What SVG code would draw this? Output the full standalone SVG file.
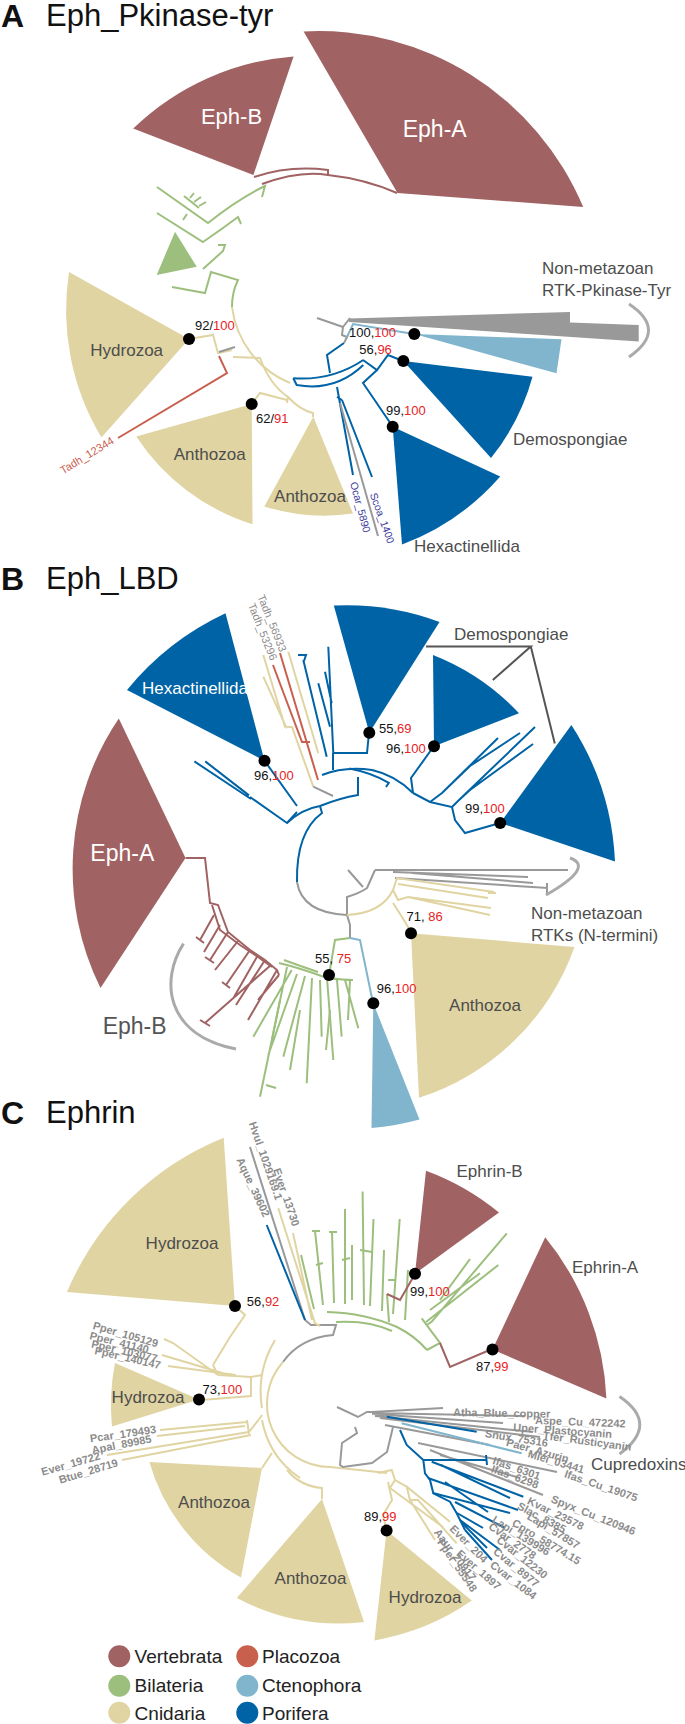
<svg xmlns="http://www.w3.org/2000/svg" width="685" height="1724" viewBox="0 0 685 1724">
<style>
text{font-family:"Liberation Sans",Arial,sans-serif}
.title{font-size:31px;fill:#111}
.tl{font-size:32px;font-weight:bold;fill:#111}
.br{fill:none;stroke-width:2;stroke-linejoin:miter}
.vb{stroke:#a06262}.bi{stroke:#9dbf7d}.cn{stroke:#e0d4a2}.po{stroke:#0063a6}.ct{stroke:#80b5cd}.pl{stroke:#c9604e}.gr{stroke:#999}
.fvb{fill:#a06262}.fbi{fill:#9dbf7d}.fcn{fill:#e0d4a2}.fpo{fill:#0063a6}.fct{fill:#80b5cd}.fpl{fill:#c9604e}.fgr{fill:#999}
.wl{font-size:17px;fill:#4d4d4d}
.ww{fill:#fff}
.bs{font-size:13px;fill:#111}
.rd{fill:#e8231f}
.tip{font-size:11px;font-weight:bold;fill:#8c8c8c}
.brk{fill:none;stroke:#aaa;stroke-width:3}
.lg{font-size:19px;fill:#222}
</style>

<g id="titles">
<text class="tl" x="1" y="27">A</text><text class="title" x="46" y="26">Eph_Pkinase-tyr</text>
<text class="tl" x="1" y="590">B</text><text class="title" x="46" y="589">Eph_LBD</text>
<text class="tl" x="1" y="1124">C</text><text class="title" x="46" y="1123">Ephrin</text>
</g>

<!-- ================= PANEL A ================= -->
<g id="A-connectors">
<path class="br vb" d="M254,177 Q290,165 328,170 L328,176"/>
<path class="br vb" d="M262,184 Q300,170 328,175 Q365,179 397,193"/>
<path class="br bi" d="M157,187 L208,223 Q238,199 265,186 L262,197"/>
<path class="br bi" d="M184,196 L199,208 M190,198 L194,193 M194,202 L201,197 M199,206 L206,202"/>
<path class="br bi" d="M157,213 L203,242 Q222,229 238,217 L241,224"/>
<path class="br bi" d="M183,220 L187,214"/>
<path class="br bi" d="M218,245 L225,245 L223,251 L203,269"/>
<path class="br bi" d="M172,287 L205,293 L211,272 L238,280 Q232,292 232,307"/>
<path class="br cn" d="M232,307 A95,95 0 0 0 290,383"/>
<path class="br cn" d="M233,357 L260,358 Q270,385 288,397 L287,403"/>
<path class="br cn" d="M251.7,404 L260,393 L287,400"/>
<path class="br cn" d="M288,397 Q300,410 313,413 L313,417"/>
<path class="br cn" d="M189,339 L213,335 L218,353 L232,350"/>
<path class="br gr" d="M219,352 L235,347"/>
<path class="br pl" d="M219,356 L227,373 L118,438"/>
<path class="br po" d="M293.3,378.3 L296.7,385 Q335,392 363.3,365"/>
<path class="br po" d="M293.3,378.3 Q332,381 363.3,360"/>
<path class="br po" d="M330,373 L327,355 L344,343"/>
<path class="br po" d="M363,360 L377,370 L388,355 L403,361"/>
<path class="br po" d="M377,370 L363,383 L393,427"/>
<path class="br po" d="M337,387 L353,475 M342,400 L372,477 M337,397 L342,400"/>
<path class="br gr" d="M340,403 L378,536"/>
<path class="br gr" d="M317,318 L343,327 L342,335 L347,337 L344,343 M343,327 L350,318"/>
<path class="br ct" d="M347,337 L353,324 L414,334"/>
<path class="brk" d="M629,304 Q668,330 629,357"/>
</g>

<g id="A-EphB"><path class="fvb" d="M253.4,175 L133.2,128.6 A260,260 0 0 1 293.6,56.4 Z"/><text class="ww" x="231.5" y="124" font-size="22" text-anchor="middle">Eph-B</text></g>
<g id="A-EphA"><path class="fvb" d="M397.5,192.9 L303.6,31.4 A287,287 0 0 1 583.2,207.1 Z"/><text class="ww" x="434.7" y="137" font-size="23" text-anchor="middle">Eph-A</text></g>
<g id="A-Bilateria"><path class="fbi" d="M156.7,275 L175,231.7 L196.7,266.7 Z"/></g>
<g id="A-Hydrozoa"><path class="fcn" d="M189,339 L101.4,437.5 A248,248 0 0 1 69,272 Z"/><text class="wl" x="126.7" y="356" text-anchor="middle">Hydrozoa</text></g>
<g id="A-Anthozoa1"><path class="fcn" d="M251.7,404 L252.5,524.3 A217,217 0 0 1 136.3,436.4 Z"/><text class="wl" x="209.7" y="459.6" text-anchor="middle">Anthozoa</text></g>
<g id="A-Anthozoa2"><path class="fcn" d="M313.3,416.7 L353,513.6 A200,200 0 0 1 264.3,506.4 Z"/><text class="wl" x="310" y="501.7" text-anchor="middle">Anthozoa</text></g>
<g id="A-NonMetazoan"><path class="fgr" d="M349,318.5 L570,312 L570,322.5 L638.7,325 L638.7,341.5 L349,322 Z"/><text class="wl" x="542" y="274">Non-metazoan</text><text class="wl" x="542" y="296">RTK-Pkinase-Tyr</text></g>
<g id="A-Ctenophora"><path class="fct" d="M414.3,334 L561.5,339.3 L556.5,373.3 Z"/></g>
<g id="A-Demospongiae"><path class="fpo" d="M403.3,361 L532.5,376.8 A226,226 0 0 1 491,458 Z"/><text class="wl" x="513" y="445">Demospongiae</text></g>
<g id="A-Hexactinellida"><path class="fpo" d="M392.7,426.7 L500.2,476.5 A245,245 0 0 1 402,544.6 Z"/><text class="wl" x="414" y="552">Hexactinellida</text></g>
<g id="A-tips">
<text font-size="11" fill="#c9604e" transform="translate(63,474.4) rotate(-31.3)">Tadh_12344</text>
<text font-size="10.5" fill="#3b3b9e" transform="translate(350,483) rotate(75)">Ocar_5890</text>
<text font-size="10.5" fill="#3b3b9e" transform="translate(369.7,494.4) rotate(70)">Scoa_1400</text>
</g>
<g id="A-support">
<circle cx="189" cy="339" r="6"/><text class="bs" x="195" y="329.5">92/<tspan class="rd">100</tspan></text>
<circle cx="251.7" cy="404" r="6"/><text class="bs" x="256" y="423">62/<tspan class="rd">91</tspan></text>
<circle cx="414.3" cy="334" r="6"/><text class="bs" x="349" y="337">100,<tspan class="rd">100</tspan></text>
<circle cx="403.3" cy="361" r="6"/><text class="bs" x="359.3" y="354">56,<tspan class="rd">96</tspan></text>
<circle cx="392.7" cy="426.7" r="6"/><text class="bs" x="386" y="415">99,<tspan class="rd">100</tspan></text>
</g>

<!-- ================= PANEL B ================= -->
<g id="B-connectors">
<path class="br po" d="M297,882 Q296,832 322,813 L320,806"/>
<path class="br po" d="M287,823 Q302,809 320,806 Q340,798 358,795 L358,777"/>
<path class="br po" d="M194.4,761.4 L251,799 M205.3,761.4 L249,795.4 M250,797 L287,823 L297,812"/>
<path class="br po" d="M264.5,760.7 L297,806"/>
<path class="br po" d="M322,775 Q345,766 372,770 Q395,775 413,793"/>
<path class="br po" d="M333,753 L367,753 L369,733 M333,753 L333,770"/>
<path class="br po" d="M326.7,756.7 L303.3,660 M298,655 L306,655 L304,661"/>
<path class="br po" d="M328.3,646.7 L333.3,753.3 M318.3,683.3 L330,726.7 M325,671.7 L331.7,703.3"/>
<path class="br po" d="M413,793 L411,778 L434,746"/>
<path class="br po" d="M349.5,768.6 Q372,773 388.8,782.9 L386,787"/>
<path class="br po" d="M413,793 L430,802 L452,807 L455,820 L465,833 L500,823"/>
<path class="br po" d="M430,802 L442,793 L498,738 M452,807 L458,801 L535,727 M458,801 L470,790 L533,744 M442,793 L470,766 L520,733"/>
<path class="br cn" d="M263.3,655 L285,726.7 L292,727 L313.3,786.7 M263.3,676.7 L286.7,728.3 M288.3,651.7 L318.3,753.3"/>
<path class="br pl" d="M280,653 L318,780 M273,665 L302,742 L310,742"/>
<path class="br gr" d="M313.3,786.7 L333,796"/>
<path class="br gr" d="M297,882 Q302,913 347,915 L350,925 L350,938"/>
<path class="br bi" d="M350,938 L335,940 L329,975"/>
<path class="br ct" d="M350,938 L360,940 L373,1003"/>
<path class="br gr" d="M348,870 L363,887 M347,915 L347,897 Q360,893 367,888 L375,870"/>
<path class="br gr" d="M375,870 L568,870 M393,872 L528,877 M412,873 L533,883 M395,878 L548,888 M547,883 L547,894"/>
<path class="br cn" d="M347,915 Q382,913 393,890 L397,878 L494,892 M398,884 L488,898 M393,890 L398,900 L408,897 L491,908 M408,897 L490,915 M488,893 L496,893"/>
<path class="br cn" d="M393,903 L402,917 L408,927 L411,933"/>
<path class="br vb" d="M185.5,858 L205,858 L210,903 L218,905 L228,932 L250,950 L265,960 L277,970 L279,975"/>
<path class="br vb" d="M212,905 L220,930 L240,945 L258,957 L272,967"/>
<path class="br vb" d="M214,915 L200,940 M196,937 L204,943 M220,925 L204,952 M228,932 L210,960 M205,957 L214,963 M238,941 L215,970 M250,950 L226,985 M222,982 L230,988 M258,955 L234,997 M265,960 L236,1005 M271,965 L205,1023 M200,1020 L210,1026 M277,970 L248,1020 M279,975 L258,1000"/>
<path class="br bi" d="M279,963 Q300,968 327,978 Q345,980 353,980 M284,960 Q300,966 318,972"/>
<path class="br bi" d="M291.7,970 L253.3,1036.7 M287,967 L260,1096.7 M297,974 L268.3,1055 M305,976 L283.3,1056.7 M312,978 L306.7,1083.3 M320,980 L321.7,1036.7 M327,978 L333.3,1060 M337,980 L341.7,1036.7 M345,980 L358.3,1028.3 M350,980 L348,1020"/>
<path class="br bi" d="M280,1000 L272,1040 M300,1010 L290,1070 M266,1085 L276,1088 M330,1010 L326,1050"/>
<path class="brk" d="M183.5,943.6 C160,980 165,1035 236,1049" stroke="#c8c8d0"/>
<path class="brk" d="M570,858 Q595,867 546,895"/>
<path fill="none" stroke="#555" stroke-width="2" d="M426,646.4 L530.8,646.4 L492.8,680 M530.8,646.4 L554.8,743.6"/>
</g>

<g id="B-Hexactinellida"><path class="fpo" d="M264.5,760.7 L127,690 A280,280 0 0 1 225.5,613.3 Z"/><text class="ww" x="142" y="694" font-size="17">Hexactinellida</text></g>
<g id="B-Demo1"><path class="fpo" d="M369.3,732.7 L333.8,605.5 A266,266 0 0 1 439.5,621.9 Z"/></g>
<g id="B-Demo2"><path class="fpo" d="M434,746.2 L433,655 A236,236 0 0 1 519,713.2 Z"/></g>
<g id="B-Demo3"><path class="fpo" d="M500.2,823 L571.4,725 A274,274 0 0 1 615,861.4 Z"/></g>
<g id="B-DemoLabel"><text class="wl" x="454" y="640">Demospongiae</text></g>
<g id="B-EphA"><path class="fvb" d="M185.5,858 L100.5,988 A268,268 0 0 1 118.8,718.6 Z"/><text class="ww" x="122.3" y="861" font-size="23" text-anchor="middle">Eph-A</text></g>
<g id="B-EphB"><text x="102.7" y="1034" font-size="23" fill="#555">Eph-B</text></g>
<g id="B-Anthozoa"><path class="fcn" d="M411,933.3 L574.5,947 A244,244 0 0 1 419,1097.8 Z"/><text class="wl" x="485" y="1011" text-anchor="middle">Anthozoa</text></g>
<g id="B-Ctenophora"><path class="fct" d="M373.3,1003.3 L419.5,1119.5 A261,261 0 0 1 371.5,1128 Z"/></g>
<g id="B-NonMetazoan"><text class="wl" x="531" y="919" font-size="16.5">Non-metazoan</text><text class="wl" x="531" y="941" font-size="16.5">RTKs (N-termini)</text></g>
<g id="B-tips">
<text font-size="11" fill="#8c8c8c" transform="translate(257.2,596.4) rotate(68)">Tadh_56933</text>
<text font-size="11" fill="#8c8c8c" transform="translate(247.8,605) rotate(68)">Tadh_53296</text>
</g>
<g id="B-support">
<circle cx="264.5" cy="760.7" r="6"/><text class="bs" x="254" y="780">96,<tspan class="rd">100</tspan></text>
<circle cx="369.3" cy="732.7" r="6"/><text class="bs" x="379" y="732.5">55,<tspan class="rd">69</tspan></text>
<circle cx="434" cy="746.2" r="6"/><text class="bs" x="386" y="753">96,<tspan class="rd">100</tspan></text>
<circle cx="500.2" cy="823" r="6"/><text class="bs" x="465" y="812.5">99,<tspan class="rd">100</tspan></text>
<circle cx="411" cy="933.3" r="6"/><text class="bs" x="406.5" y="921">71, <tspan class="rd">86</tspan></text>
<circle cx="329" cy="975" r="6"/><text class="bs" x="315" y="963">55, <tspan class="rd">75</tspan></text>
<circle cx="373.3" cy="1003.3" r="6"/><text class="bs" x="376.7" y="992.5">96,<tspan class="rd">100</tspan></text>
</g>

<!-- ================= PANEL C ================= -->
<g id="C-connectors">
<path class="br gr" d="M283,1362 Q300,1338 333,1335 L336,1325 L311,1325 L305,1320 L250,1147"/>
<path class="br po" d="M266.7,1225 L305,1320"/>
<path class="br cn" d="M278.3,1208.3 L315,1323.3 L320,1326 M293,1233 L312,1320"/>
<path class="br cn" d="M283,1362 A63,63 0 0 0 330,1467 Q360,1470 387,1473"/>
<path class="br cn" d="M275,1340 Q256,1372 262,1408 M262,1420 Q268,1452 292,1472 L300,1478"/>
<path class="br cn" d="M235,1306 L245,1315 L230,1337 L213,1365"/>
<path class="br cn" d="M164,1339 L173,1343 L218,1375 M162,1355 L229,1375 M168,1366 L236,1375 M213,1365 L218,1375 M218,1375 L251,1377 L262,1375"/>
<path class="br cn" d="M251,1377 L251,1396 L201,1400"/>
<path class="br cn" d="M160,1430 L247,1422 M157,1436 L245,1426 M247,1420 L249,1434 M107,1455 L249,1432 M122,1460 L251,1435 M249,1432 L260,1418 L262,1415"/>
<path class="br cn" d="M262,1468 L272,1453 M322,1499 L322,1488 Q300,1486 287,1470"/>
<path class="br cn" d="M378,1473 L391.7,1470 L395,1480 L406.7,1486.7 L450,1521.7 M395,1480 L390,1488 L443,1527 M406.7,1486.7 L410,1500 L435,1540 M410,1500 L418,1500 L456.7,1543.3"/>
<path class="br cn" d="M386.6,1530.6 L383,1515 L392,1500 L388,1482"/>
<path class="br bi" d="M327,1312 Q365,1313 397,1327 Q415,1336 427,1350 M336,1322 Q368,1320 392,1331"/>
<path class="br bi" d="M314,1309 L301,1255 M323,1305 L315,1231 M312,1231 L320,1231 M334,1303 L332,1232 M329,1232 L337,1232 M345,1304 L345,1209 M352,1300 L352,1245 M364,1305 L362.6,1191.5 M370,1306 L373.5,1219 M382,1311 L384,1250 M393,1314 L399.7,1219 M405,1320 L408,1270"/>
<path class="br bi" d="M316,1265 L323,1263 M342,1260 L350,1258 M360,1250 L372,1252 M388,1280 L396,1280"/>
<path class="br bi" d="M427,1350 L440,1343 L421.7,1318.3 L426.7,1325 L431.7,1321.7 L506.8,1233.3 M426,1322 L498.3,1265 M430,1310 L480,1273.3 M440,1300 L470,1259"/>
<path class="br bi" d="M389,1322 L387,1294"/>
<path class="br vb" d="M440,1343 L450,1367 L492,1349 M387,1294 L400,1300 L415,1274"/>
<path class="br gr" d="M337,1407 L358,1417 L367,1412 L372,1412"/>
<path class="br gr" d="M355,1427 L357,1433 L342,1443 L340,1465 L343,1467 L372,1463 L387,1452 L393,1427"/>
<path class="br gr" d="M372,1412 L443,1408 M372,1413 L525,1416 M372,1414 L503,1423 M375,1416 L533,1432 M380,1418 L540,1437 M385,1425 L490,1445 M418,1443 L557,1472 M430,1450 L543,1495 M440,1455 L520,1478"/>
<path class="br po" d="M386.7,1416.7 L476.7,1431.7"/>
<path class="br ct" d="M401.7,1423.3 L521.7,1453.3"/>
<path class="br po" d="M400,1430 L406.7,1445 L423.3,1460 L425,1473.3 L430,1480 L433.3,1493.3 L450,1501.7 L456.7,1513.3 L461.7,1523.3 L465,1530"/>
<path class="br po" d="M423,1460 L486.7,1460 M486,1455 L487,1465 M431.7,1461.7 L523.3,1496.7 M441,1465 L510,1498 M428,1478 L518,1510 M445,1482 L488,1512 M433,1493 L510,1513 M455,1502 L505,1528 M457,1513 L483,1528 M460,1520 L500,1550 M462,1523 L487,1548 M465,1530 L492,1560"/>
<path class="brk" d="M619.5,1396.5 Q660,1424 619.5,1454"/>
</g>

<g id="C-Hydrozoa1"><path class="fcn" d="M235,1306 L67,1292 A286,286 0 0 1 223.7,1137.8 Z"/><text class="wl" x="182" y="1249" text-anchor="middle">Hydrozoa</text></g>
<g id="C-EphrinB"><path class="fvb" d="M415,1273.7 L426,1170.8 A254,254 0 0 1 499,1212.6 Z"/><text class="wl" x="456.5" y="1177" font-size="16.5">Ephrin-B</text></g>
<g id="C-EphrinA"><path class="fvb" d="M492.5,1349.6 L545.2,1237.3 A274,274 0 0 1 606.4,1398.4 Z"/><text class="wl" x="572" y="1273" font-size="16.5">Ephrin-A</text></g>
<g id="C-Hydrozoa2"><path class="fcn" d="M199,1399.5 L112,1426.5 A219,219 0 0 1 115,1363 Z"/><text class="wl" x="148" y="1402.5" text-anchor="middle">Hydrozoa</text></g>
<g id="C-Anthozoa1"><path class="fcn" d="M262,1468 L241,1577.5 A192,192 0 0 1 149.4,1462 Z"/><text class="wl" x="214" y="1508" text-anchor="middle">Anthozoa</text></g>
<g id="C-Anthozoa2"><path class="fcn" d="M322,1499 L364,1622 A218,218 0 0 1 236.8,1598 Z"/><text class="wl" x="310.5" y="1583.5" text-anchor="middle">Anthozoa</text></g>
<g id="C-Hydrozoa3"><path class="fcn" d="M386.6,1530.6 L471.8,1600.6 A241,241 0 0 1 374.4,1640.4 Z"/><text class="wl" x="425" y="1602.6" text-anchor="middle">Hydrozoa</text></g>
<g id="C-Cupredoxins"><text class="wl" x="591" y="1470">Cupredoxins</text></g>

<g id="C-tips">
<text class="tip" transform="translate(248.7,1123.3) rotate(71)">Hvul_1029169.1</text>
<text class="tip" transform="translate(272.9,1169.7) rotate(71)">Ever_13730</text>
<text class="tip" transform="translate(236.2,1159.7) rotate(65)">Aque_39602</text>
<text class="tip" transform="translate(92.2,1328.8) rotate(16)">Pper_105129</text>
<text class="tip" transform="translate(89,1338.9) rotate(14)">Pper_41140</text>
<text class="tip" transform="translate(90.8,1347.2) rotate(13)">Pper_103077</text>
<text class="tip" transform="translate(94.1,1353.9) rotate(13)">Pper_140147</text>
<text class="tip" transform="translate(90.5,1442.3) rotate(-8)">Pcar_179493</text>
<text class="tip" transform="translate(92.5,1453.9) rotate(-11)">Apal_89985</text>
<text class="tip" transform="translate(42.6,1475.8) rotate(-16)">Ever_19722</text>
<text class="tip" transform="translate(60.2,1483.8) rotate(-17)">Btue_28719</text>
<text class="tip" transform="translate(453,1416) rotate(1)">Atha_Blue_copper</text>
<text class="tip" transform="translate(535,1424) rotate(2.2)">Aspe_Cu_472242</text>
<text class="tip" transform="translate(513,1431) rotate(4)">Uper_Plastocyanin</text>
<text class="tip" transform="translate(542.5,1439) rotate(7.7)">Tfer_Rusticyanin</text>
<text class="tip" transform="translate(484.4,1437) rotate(9)">Snux_75316</text>
<text class="tip" transform="translate(505.6,1445.5) rotate(15.7)">Paer_Azurin</text>
<text class="tip" transform="translate(527.2,1457.1) rotate(16.4)">Mlei_03441</text>
<text class="tip" transform="translate(492,1463.8) rotate(19)">Ifas_6301</text>
<text class="tip" transform="translate(490.4,1472) rotate(19.7)">Ifas_6298</text>
<text class="tip" transform="translate(563.7,1477) rotate(18.8)">Ifas_Cu_19075</text>
<text class="tip" transform="translate(550.2,1502) rotate(21.8)">Spyx_Cu_120946</text>
<text class="tip" transform="translate(526.6,1503.6) rotate(25.9)">Kvar_23578</text>
<text class="tip" transform="translate(516.4,1508.5) rotate(28)">Slac_8385</text>
<text class="tip" transform="translate(526.2,1518.4) rotate(31.5)">Lapi_57857</text>
<text class="tip" transform="translate(491.2,1521.7) rotate(31.7)">Lapi_139996</text>
<text class="tip" transform="translate(511.2,1525.1) rotate(31)">Cpro_58774.15</text>
<text class="tip" transform="translate(487.7,1528.3) rotate(35)">Cvar_2778</text>
<text class="tip" transform="translate(495.8,1541.4) rotate(38.4)">Cvar_12230</text>
<text class="tip" transform="translate(492.5,1553.1) rotate(39)">Cvar_8977</text>
<text class="tip" transform="translate(489.3,1566.5) rotate(37.6)">Cvar_1084</text>
<text class="tip" transform="translate(448.9,1529.5) rotate(45)">Ever_204</text>
<text class="tip" transform="translate(455.7,1554.7) rotate(41)">Ever_1897</text>
<text class="tip" transform="translate(433.5,1532.4) rotate(53)">Aaur_20917</text>
<text class="tip" transform="translate(436.7,1542.3) rotate(55.5)">Pper_55548</text>
</g>

<g id="C-support">
<circle cx="235" cy="1306" r="6"/><text class="bs" x="246.8" y="1306">56,<tspan class="rd">92</tspan></text>
<circle cx="415" cy="1273.7" r="6"/><text class="bs" x="410" y="1296">99,<tspan class="rd">100</tspan></text>
<circle cx="492.5" cy="1349.6" r="6"/><text class="bs" x="476" y="1370.5">87,<tspan class="rd">99</tspan></text>
<circle cx="199" cy="1399.5" r="6"/><text class="bs" x="202.5" y="1393.5">73,<tspan class="rd">100</tspan></text>
<circle cx="386.6" cy="1530.6" r="6"/><text class="bs" x="364" y="1520.5">89,<tspan class="rd">99</tspan></text>
</g>

<g id="legend">
<circle class="fvb" cx="119.3" cy="1656.3" r="11"/><text class="lg" x="134.6" y="1663">Vertebrata</text>
<circle class="fbi" cx="119.3" cy="1685.7" r="11"/><text class="lg" x="134.6" y="1692.4">Bilateria</text>
<circle class="fcn" cx="119.3" cy="1712.8" r="11"/><text class="lg" x="134.6" y="1719.5">Cnidaria</text>
<circle class="fpl" cx="247.3" cy="1656.3" r="11"/><text class="lg" x="262" y="1663">Placozoa</text>
<circle class="fct" cx="247.3" cy="1685.7" r="11"/><text class="lg" x="262" y="1692.4">Ctenophora</text>
<circle class="fpo" cx="247.3" cy="1712.8" r="11"/><text class="lg" x="262" y="1719.5">Porifera</text>
</g>
</svg>
